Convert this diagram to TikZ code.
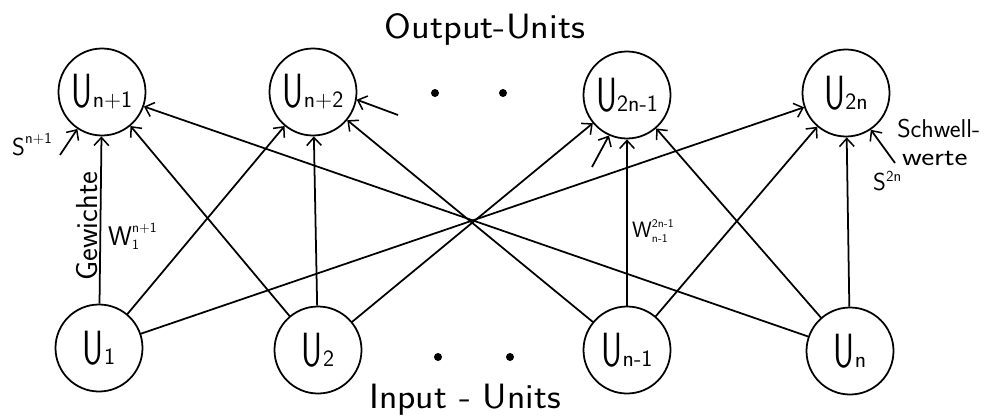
\documentclass[tikz,border=0pt]{standalone}
\usepackage{fontspec}
\usepackage{graphicx}
\usetikzlibrary{arrows.meta}

% label of a unit: narrow capital U with its index beside it
\newcommand\ulab[1]{\fontsize{41}{41}\selectfont\scalebox{0.68}[1]{U}\fontsize{20}{20}\selectfont #1}

\tikzset{
  unit/.style={circle, draw, line width=1.5pt, minimum size=2.61cm, inner sep=0pt, font=\sffamily},
  link/.style={line width=1.5pt, -{Straight Barb[length=2.4mm,width=4.4mm,line width=1.3pt]}},
  hand/.style={font=\sffamily, inner sep=0pt},
  dot/.style={circle, fill, inner sep=0pt, minimum size=0.24cm}
}

\begin{document}
\begin{tikzpicture}[x=0.03cm,y=-0.03cm]
\useasboundingbox (0,0) rectangle (990,416);

% output layer
\node[unit] (o1) at (102,92) {\ulab{n+1}};
\node[unit] (o2) at (313,92) {\ulab{n+2}};
\node[unit] (o3) at (627,95) {\ulab{2n-1}};
\node[unit] (o4) at (846,93) {\ulab{2n}};

% input layer
\node[unit] (i1) at (99,348) {\ulab{1}};
\node[unit] (i2) at (318,350) {\ulab{2}};
\node[unit] (i3) at (627,350) {\ulab{n-1}};
\node[unit] (i4) at (850,351) {\ulab{n}};

% weighted connections
\foreach \a/\b in {i1/o1,i1/o2,i1/o4,i2/o1,i2/o2,i2/o3,i3/o2,i3/o3,i3/o4,i4/o1,i4/o3,i4/o4}
  \draw[link] (\a) -- (\b);

% threshold inputs
\coordinate (t1) at (60,155);
\coordinate (t2) at (398,115);
\coordinate (t3) at (592,167);
\coordinate (t4) at (895,163);
\draw[link] (t1) -- (o1);
\draw[link] (t2) -- (o2.-10);
\draw[link] (t3) -- (o3.-114);
\draw[link] (t4) -- (o4.-56);

% ellipsis dots
\node[dot] (d1) at (435,93) {};
\node[dot] (d2) at (503,93) {};
\node[dot] (d3) at (438,357) {};
\node[dot] (d4) at (510,357) {};

% layer titles
\node[hand, anchor=base] (out) at (485,38) {\fontsize{30}{30}\selectfont\scalebox{1.1}[1]{Output-Units}};
\node[hand, anchor=base] (inp) at (465,408) {\fontsize{30}{30}\selectfont\scalebox{1.08}[1]{Input - Units}};

% annotations
\node[hand, anchor=base west] (sn1) at (12,155) {\fontsize{21}{21}\selectfont S\raisebox{10pt}{\fontsize{13}{13}\selectfont n+1}};
\node[hand, anchor=base west] (s2n) at (873,190) {\fontsize{21}{21}\selectfont S\raisebox{7pt}{\fontsize{13}{13}\selectfont 2n}};
\node[hand, rotate=90, anchor=base] (gew) at (97,226) {\fontsize{26}{26}\selectfont Gewichte};
\node[hand, anchor=base west] (w1) at (108,245) {\fontsize{23}{23}\selectfont W\raisebox{-4pt}{\rlap{\fontsize{12}{12}\selectfont 1}}\raisebox{11pt}{\fontsize{12}{12}\selectfont n+1}};
\node[hand, anchor=base west] (w2) at (632,237) {\fontsize{19}{19}\selectfont W\raisebox{-5pt}{\rlap{\fontsize{10}{10}\selectfont n-1}}\raisebox{8pt}{\fontsize{10}{10}\selectfont 2n-1}};
\node[hand, anchor=base west] (sw1) at (897,137) {\fontsize{22}{22}\selectfont Schwell-};
\node[hand, anchor=base west] (sw2) at (902,165) {\fontsize{22}{22}\selectfont\scalebox{1.2}[1]{werte}};
\end{tikzpicture}
\end{document}
